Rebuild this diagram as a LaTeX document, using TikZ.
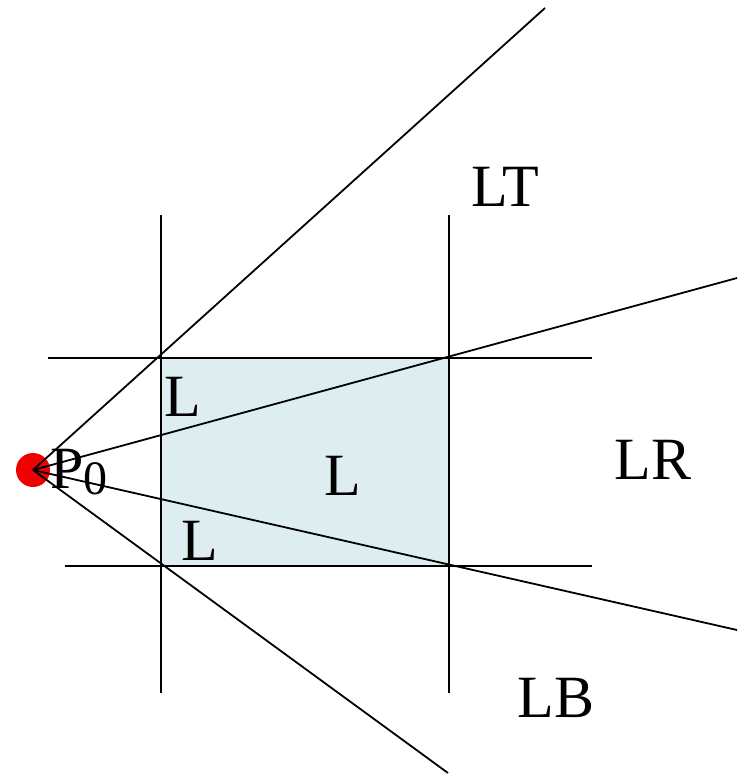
\documentclass[tikz,border=0pt]{standalone}
\usepackage{fontspec}
\setmainfont{Liberation Serif}
\usetikzlibrary{positioning}
\definecolor{regionblue}{RGB}{221,237,240}
\definecolor{pointred}{RGB}{240,0,0}
\tikzset{
  regionlabel/.style={font=\fontsize{30}{35}\selectfont,inner sep=0pt},
  gridline/.style={line width=1pt},
  rayline/.style={line width=0.9pt}
}

\begin{document}
\begin{tikzpicture}[x=0.5pt,y=-0.5pt]
    \useasboundingbox (0,0) rectangle (744,775);
    \fill[regionblue] (161,358) rectangle (449,566);
    % clip window edges
    \draw[gridline] (161,215) -- (161,693);\draw[gridline] (449,215) -- (449,693);
    \draw[gridline] (48,358) -- (592,358);\draw[gridline] (65,566) -- (592,566);
    % rays from the point
    \node[circle,fill=pointred,minimum size=17pt,inner sep=0pt] (p0) at (33,470) {};
    \coordinate (rayT) at (545,8);\coordinate (rayR1) at (737,278);
    \coordinate (rayR2) at (737,630);\coordinate (rayB) at (448,773);
    \draw[rayline] (p0.center) -- (rayT);\draw[rayline] (p0.center) -- (rayR1);
    \draw[rayline] (p0.center) -- (rayR2);\draw[rayline] (p0.center) -- (rayB);
    \node[regionlabel,anchor=west] (p0lbl) at (50,472) {P\raisebox{-3pt}{\fontsize{24}{28}\selectfont 0}};
    \node[regionlabel] (lt) at (505,187) {LT};
    \node[regionlabel] (lr) at (653,460) {LR};
    \node[regionlabel] (lb) at (556,698) {LB};
    \node[regionlabel] (ltop) at (183,397) {L};
    \node[regionlabel] (lmid) at (343,476) {L};
    \node[regionlabel] (lbot) at (200,541) {L};
  \end{tikzpicture}
\end{document}
